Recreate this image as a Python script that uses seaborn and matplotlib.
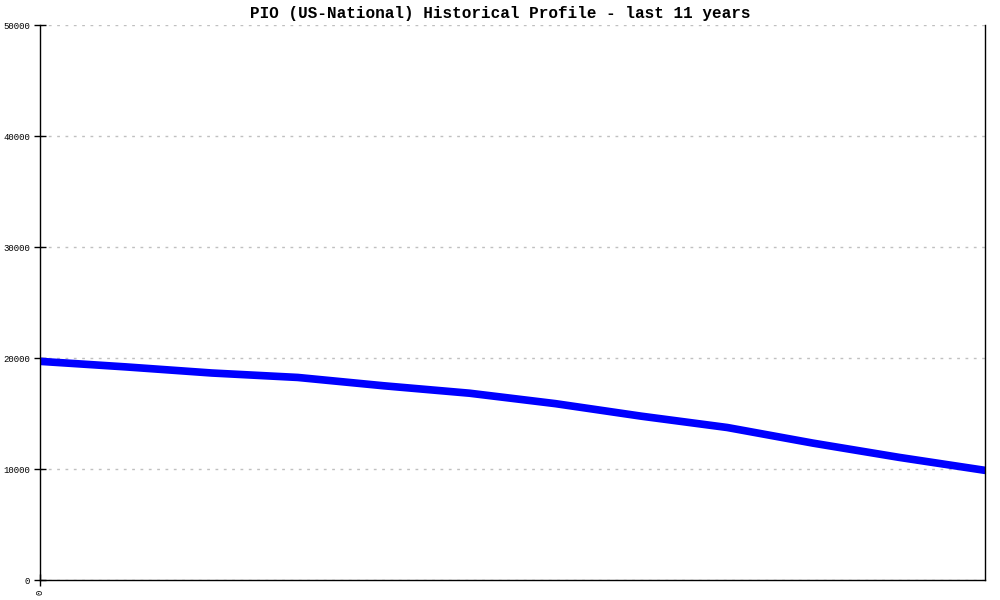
import pandas as pd
import seaborn as sns
import matplotlib.pyplot as plt

# yearly points
years = list(range(12))
values = [19700, 19200, 18650, 18250, 17500, 16830, 15890, 14760, 13740, 12330, 11050, 9880]
yticks = [0, 10000, 20000, 30000, 40000, 50000]

df = pd.DataFrame({'year': years, 'value': values})

sns.set_style('white')
plt.rcParams['font.family'] = ['Liberation Mono', 'DejaVu Sans Mono']
plt.rcParams['text.color'] = 'black'
plt.rcParams['xtick.color'] = 'black'
plt.rcParams['ytick.color'] = 'black'

fig = plt.figure(figsize=(10, 6), dpi=100)
ax = fig.add_axes([0.04, 0.0333, 0.945, 0.925])

sns.lineplot(x='year', y='value', data=df, color='#0000ff', linewidth=5.5, ax=ax)

ax.set_xlim(0, 11)
ax.set_ylim(0, 50000)
ax.set_yticks(yticks)
ax.set_yticklabels([str(v) for v in yticks], fontsize=6.5)
ax.set_xticks([0])
ax.set_xticklabels(['0'], fontsize=6.5, rotation=90)
ax.tick_params(axis='both', left=True, bottom=True, direction='inout', length=8,
               width=1, color='black', labelcolor='black', pad=3)
ax.grid(axis='y', linestyle=(0, (2, 4)), color='#c0c0c0', linewidth=1)
ax.set_axisbelow(True)
ax.set_xlabel('')
ax.set_ylabel('')

for side in ['left', 'bottom', 'right']:
    ax.spines[side].set_color('black')
    ax.spines[side].set_linewidth(1)
ax.spines['top'].set_visible(False)

fig.suptitle('PIO (US-National) Historical Profile - last 11 years', y=0.99,
             fontsize=11.5, fontweight='bold', color='black')

fig.savefig('out.png', dpi=100)
